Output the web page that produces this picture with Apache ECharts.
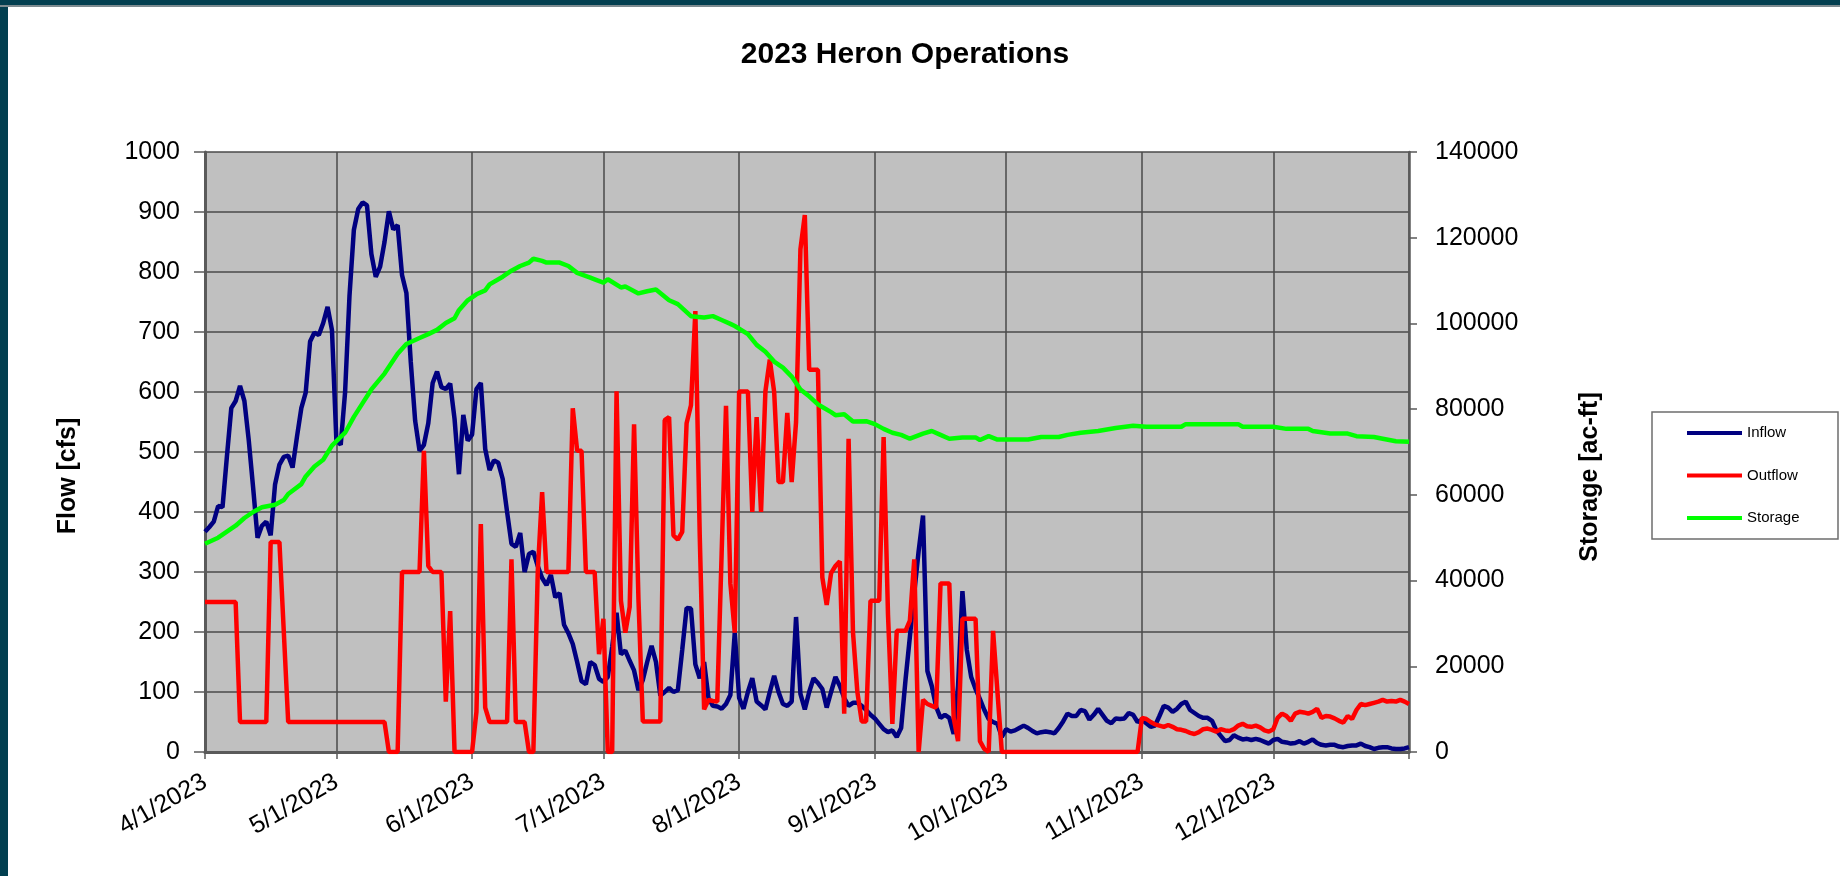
<!DOCTYPE html>
<html>
<head>
<meta charset="utf-8">
<title>2023 Heron Operations</title>
<script src="https://cdn.jsdelivr.net/npm/echarts@6/dist/echarts.min.js"></script>
<style>
  html, body { margin: 0; padding: 0; background: #fff; }
  #chart { position: absolute; left: 0; top: 0; width: 1840px; height: 876px; }
  .frame-left { position: absolute; left: 0; top: 0; width: 8px; height: 876px; background: #023f50; }
  .frame-top { position: absolute; left: 0; top: 0; width: 1840px; height: 5px; background: #023f50; border-bottom: 2px solid #7d8b90; }
</style>
</head>
<body>
<div id="chart"></div>
<div class="frame-left"></div>
<div class="frame-top"></div>
<script>
// daily values, 4/1/2023 .. 1/1/2024
const inflow = [
  367, 375, 384, 410, 408, 492, 573, 585, 610, 585,
  519, 440, 357, 377, 384, 361, 446, 479, 492, 494,
  474, 525, 573, 599, 684, 699, 695, 715, 742, 703,
  520, 512, 600, 760, 870, 905, 916, 911, 830, 792,
  809, 850, 901, 871, 878, 795, 765, 650, 552, 502,
  512, 548, 615, 634, 608, 605, 614, 555, 463, 562,
  519, 529, 605, 615, 505, 470, 486, 482, 455, 400,
  347, 342, 365, 300, 330, 334, 310, 290, 278, 295,
  258, 265, 212, 198, 180, 150, 118, 113, 150, 145,
  122, 117, 125, 175, 232, 163, 169, 152, 136, 103,
  120, 150, 177, 150, 94, 100, 107, 100, 103, 170,
  240, 239, 146, 123, 150, 90, 77, 76, 72, 80,
  95, 199, 90, 72, 100, 123, 84, 78, 71, 100,
  127, 100, 80, 77, 84, 225, 97, 71, 100, 123,
  115, 105, 74, 100, 125, 110, 90, 77, 82, 82,
  77, 70, 62, 56, 47, 38, 33, 36, 25, 40,
  120, 192, 265, 335, 394, 135, 110, 75, 57, 62,
  57, 30, 110, 268, 170, 125, 105, 88, 70, 55,
  50, 47, 25, 38, 34, 36, 40, 44, 40, 35,
  31, 33, 34, 33, 31, 40, 51, 64, 60, 60,
  70, 68, 54, 62, 72, 62, 52, 48, 56, 55,
  56, 65, 62, 50, 54, 48, 42, 44, 60, 77,
  74, 67, 72, 80, 84, 70, 65, 60, 57, 57,
  52, 36, 27, 18, 20, 28, 24, 21, 22, 20,
  22, 20, 17, 14, 20, 22, 17, 16, 14, 15,
  18, 14, 17, 21, 15, 12, 11, 12, 12, 9,
  8, 10, 11, 11, 14, 10, 8, 5, 7, 8,
  8, 6, 5, 5, 6, 8
];

const outflow = [
  250, 250, 250, 250, 250, 250, 250, 250, 50, 50,
  50, 50, 50, 50, 50, 350, 350, 350, 200, 50,
  50, 50, 50, 50, 50, 50, 50, 50, 50, 50,
  50, 50, 50, 50, 50, 50, 50, 50, 50, 50,
  50, 50, 0, 0, 0, 300, 300, 300, 300, 300,
  502, 310, 300, 300, 300, 84, 235, 0, 0, 0,
  0, 0, 67, 380, 74, 50, 50, 50, 50, 50,
  321, 50, 50, 50, 0, 0, 300, 433, 300, 300,
  300, 300, 300, 300, 573, 502, 502, 300, 300, 300,
  163, 222, 0, 0, 601, 252, 199, 242, 546, 255,
  51, 51, 51, 51, 51, 553, 558, 361, 354, 367,
  548, 578, 735, 361, 71, 87, 85, 84, 330, 577,
  281, 199, 601, 601, 601, 400, 558, 400, 601, 654,
  600, 450, 450, 565, 450, 550, 838, 895, 637, 637,
  637, 291, 245, 298, 310, 318, 64, 522, 200, 100,
  51, 51, 252, 252, 252, 525, 229, 47, 202, 202,
  202, 219, 321, 0, 87, 80, 77, 74, 281, 281,
  281, 57, 18, 222, 222, 222, 222, 18, 5, 0,
  202, 100, 0, 0, 0, 0, 0, 0, 0, 0,
  0, 0, 0, 0, 0, 0, 0, 0, 0, 0,
  0, 0, 0, 0, 0, 0, 0, 0, 0, 0,
  0, 0, 0, 0, 57, 55, 50, 46, 44, 42,
  45, 42, 38, 37, 35, 32, 30, 33, 38, 39,
  37, 34, 38, 36, 35, 38, 44, 47, 43, 42,
  44, 41, 36, 34, 38, 57, 64, 60, 52, 64,
  67, 66, 64, 67, 72, 57, 60, 59, 56, 52,
  49, 60, 55, 70, 80, 78, 80, 82, 84, 87,
  84, 85, 84, 87, 84, 80
];

// storage read at the line's turning points (day index from 4/1)
const storageDays = [
  0, 3, 5, 7, 9, 11, 13, 16, 18, 19, 22, 23, 25, 27, 29, 32, 34, 36, 38, 41,
  44, 46, 49, 51, 53, 55, 57, 58, 60, 62, 64, 65, 68, 70, 72, 74, 75, 77, 78, 81,
  83, 85, 88, 89, 91, 92, 95, 96, 99, 101, 103, 106, 108, 111, 114, 116, 118, 120, 121, 124,
  126, 128, 130, 132, 134, 136, 138, 140, 141, 143, 144, 146, 148, 151, 153, 155, 157, 159, 161, 164,
  166, 168, 170, 173, 176, 177, 179, 181, 184, 188, 191, 195, 197, 200, 204, 208, 212, 215, 220, 223,
  224, 229, 236, 237, 244, 247, 252, 253, 257, 261, 263, 267, 269, 272, 275
];
const storageValues = [
  48600, 50000, 51400, 52800, 54600, 56000, 57100, 57700, 58800, 60200, 62500, 64300, 66600, 68200, 71500, 74500, 78200, 81400, 84600, 88300,
  92900, 95200, 96600, 97500, 98500, 100100, 101200, 103100, 105400, 106800, 107700, 109100, 110900, 112300, 113400, 114200, 115100, 114600, 114200, 114200,
  113400, 111800, 110700, 110300, 109500, 110300, 108400, 108600, 107000, 107500, 107900, 105400, 104500, 101700, 101400, 101700, 100800, 99900, 99400, 97500,
  95000, 93400, 91100, 89700, 87600, 84600, 83000, 81100, 80500, 79300, 78600, 78800, 77100, 77200, 76500, 75400, 74500, 74000, 73100, 74300,
  74900, 74000, 73100, 73400, 73400, 72800, 73700, 72900, 72900, 72900, 73500, 73500, 74000, 74500, 74900, 75600, 76100, 75900, 75900, 75900,
  76500, 76500, 76500, 75900, 75900, 75400, 75400, 74900, 74300, 74300, 73700, 73500, 73100, 72500, 72400
];

const dates = [];
for (let i = 0; i < inflow.length; i++) {
  const d = new Date(2023, 3, 1 + i);
  dates.push((d.getMonth() + 1) + '/' + d.getDate() + '/' + d.getFullYear());
}
const isMonthStart = (v) => v.split('/')[1] === '1';

const FONT = '"Liberation Sans", Arial, sans-serif';
const AXIS_GREY = '#5a5a5a';
const GRID_GREY = '#4a4a4a';
const plain = (v) => String(v);

const chart = echarts.init(document.getElementById('chart'), null, { renderer: 'canvas' });

const option = {
  animation: false,
  backgroundColor: '#fff',
  textStyle: { fontFamily: FONT },
  grid: {
    left: 205, top: 152, width: 1204, height: 600,
    show: true, backgroundColor: '#c0c0c0', borderWidth: 0
  },
  legend: {
    data: ['Inflow', 'Outflow', 'Storage'],
    orient: 'vertical',
    left: 1687, top: 425,
    padding: 0,
    icon: 'rect',
    itemWidth: 55, itemHeight: 4, itemGap: 26.5,
    textStyle: { fontSize: 15, lineHeight: 16, color: '#000', fontFamily: FONT }
  },
  xAxis: {
    type: 'category',
    data: dates,
    boundaryGap: false,
    axisLine: { lineStyle: { color: AXIS_GREY, width: 3 } },
    axisTick: { interval: (i, v) => isMonthStart(v), length: 7, lineStyle: { color: AXIS_GREY, width: 1.5 } },
    axisLabel: {
      interval: (i, v) => isMonthStart(v) && v.endsWith('2023'),
      rotate: 30, margin: 28, fontSize: 25, color: '#000', fontFamily: FONT
    },
    splitLine: { show: true, interval: (i, v) => isMonthStart(v), lineStyle: { color: GRID_GREY, width: 1.5 } }
  },
  yAxis: [
    {
      type: 'value', position: 'left',
      min: 0, max: 1000, interval: 100,
      axisLine: { show: true, lineStyle: { color: AXIS_GREY, width: 3 } },
      axisTick: { show: true, length: 11, lineStyle: { color: AXIS_GREY, width: 1.5 } },
      axisLabel: { margin: 25, fontSize: 25, color: '#000', fontFamily: FONT, formatter: plain },
      splitLine: { show: true, lineStyle: { color: GRID_GREY, width: 1.5 } }
    },
    {
      type: 'value', position: 'right',
      min: 0, max: 140000, interval: 20000,
      axisLine: { show: true, lineStyle: { color: AXIS_GREY, width: 2.5 } },
      axisTick: { show: true, length: 8, lineStyle: { color: AXIS_GREY, width: 1.5 } },
      axisLabel: { margin: 26, fontSize: 25, color: '#000', fontFamily: FONT, formatter: plain },
      splitLine: { show: false }
    }
  ],
  series: [
    {
      name: 'Inflow', type: 'line', data: inflow,
      showSymbol: false, color: '#000080',
      lineStyle: { width: 4.5, color: '#000080' }
    },
    {
      name: 'Outflow', type: 'line', data: outflow,
      showSymbol: false, color: '#ff0000',
      lineStyle: { width: 4.5, color: '#ff0000' }
    },
    {
      name: 'Storage', type: 'line', yAxisIndex: 1,
      data: storageDays.map((d, i) => [d, storageValues[i]]),
      showSymbol: false, color: '#00ff00',
      lineStyle: { width: 4.5, color: '#00ff00' }
    }
  ],
  graphic: [
    {
      type: 'text', x: 905, y: 55,
      style: { text: '2023 Heron Operations', fontSize: 30, fontWeight: 'bold', fontFamily: FONT, fill: '#000', align: 'center', verticalAlign: 'middle' }
    },
    {
      type: 'text', x: 68, y: 476, rotation: Math.PI / 2,
      style: { text: 'Flow [cfs]', fontSize: 25, fontWeight: 'bold', fontFamily: FONT, fill: '#000', align: 'center', verticalAlign: 'middle' }
    },
    {
      type: 'text', x: 1590, y: 477, rotation: Math.PI / 2,
      style: { text: 'Storage [ac-ft]', fontSize: 25, fontWeight: 'bold', fontFamily: FONT, fill: '#000', align: 'center', verticalAlign: 'middle' }
    },
    {
      type: 'rect', shape: { x: 1652, y: 412, width: 186, height: 127 },
      style: { fill: 'transparent', stroke: '#6e6e6e', lineWidth: 1.5 }
    }
  ]
};

chart.setOption(option);
</script>
</body>
</html>
